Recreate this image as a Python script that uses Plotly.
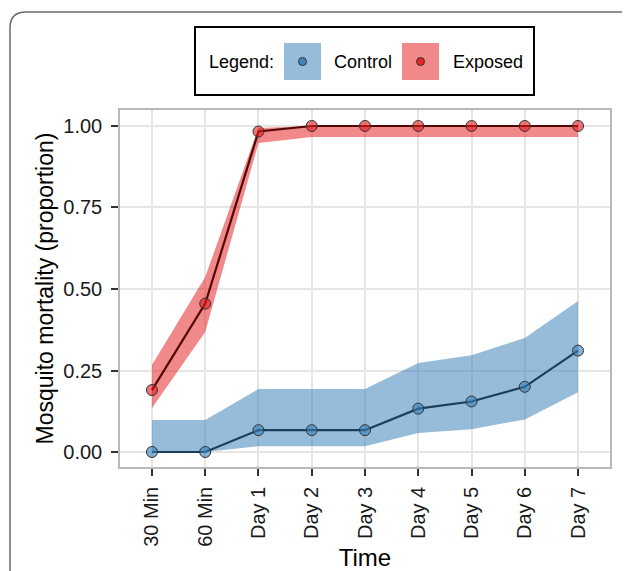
import plotly.graph_objects as go

times = ["30 Min", "60 Min", "Day 1", "Day 2", "Day 3", "Day 4", "Day 5", "Day 6", "Day 7"]

control_mean = [0.0, 0.0, 0.067, 0.067, 0.067, 0.133, 0.155, 0.200, 0.311]
control_low = [0.0, 0.0, 0.018, 0.018, 0.018, 0.058, 0.070, 0.100, 0.183]
control_high = [0.098, 0.098, 0.193, 0.193, 0.193, 0.273, 0.297, 0.350, 0.463]

exposed_mean = [0.190, 0.455, 0.983, 1.0, 1.0, 1.0, 1.0, 1.0, 1.0]
exposed_low = [0.135, 0.368, 0.948, 0.966, 0.966, 0.966, 0.966, 0.966, 0.966]
exposed_high = [0.267, 0.537, 0.994, 1.0, 1.0, 1.0, 1.0, 1.0, 1.0]

yticks = [0.0, 0.25, 0.50, 0.75, 1.00]
ytick_text = ["0.00", "0.25", "0.50", "0.75", "1.00"]

CTRL_FILL = "rgba(55,126,184,0.52)"
EXP_FILL = "rgba(228,26,28,0.52)"
CTRL_LINE = "#1c3d5c"
EXP_LINE = "#520707"

fig = go.Figure()

for lo, hi, fillc in [(control_low, control_high, CTRL_FILL), (exposed_low, exposed_high, EXP_FILL)]:
    fig.add_trace(go.Scatter(
        x=times + times[::-1], y=hi + lo[::-1], fill="toself", fillcolor=fillc,
        line=dict(width=0), mode="lines", hoverinfo="skip", showlegend=False))

for mean, lc, mc in [(control_mean, CTRL_LINE, "rgba(55,126,184,0.6)"), (exposed_mean, EXP_LINE, "rgba(228,26,28,0.6)")]:
    fig.add_trace(go.Scatter(
        x=times, y=mean, mode="lines+markers",
        line=dict(color=lc, width=2.2),
        marker=dict(size=11, color=mc, line=dict(color="#333333", width=1)),
        showlegend=False))

# page has an 8px body margin; work in page pixels and convert
OFF = 8
W, H = 630 - OFF, 571 - OFF
L, R, T, B = 120 - OFF, 610 - OFF, 110 - OFF, 467 - OFF


def px(x):
    return (x - OFF - L) / (R - L)


def py(y):
    return (B - (y - OFF)) / (B - T)


shapes = []
# outer rounded frame
x0, y0, x1, y1, r = 10, 12, 660, 600, 16
path = (f"M {px(x0)},{py(y1)} L {px(x0)},{py(y0 + r)} "
        f"Q {px(x0)},{py(y0)} {px(x0 + r)},{py(y0)} L {px(x1)},{py(y0)}")
shapes.append(dict(type="path", xref="paper", yref="paper", path=path,
                   line=dict(color="#6b6b6b", width=1.5)))
# legend box
shapes.append(dict(type="rect", xref="paper", yref="paper",
                   x0=px(195), x1=px(534), y0=py(95), y1=py(27),
                   line=dict(color="black", width=2), fillcolor="white"))
# legend keys
for kx, fillc, dotc in [(284, CTRL_FILL, "rgba(55,126,184,0.9)"), (402, EXP_FILL, "rgba(228,26,28,0.9)")]:
    shapes.append(dict(type="rect", xref="paper", yref="paper",
                       x0=px(kx), x1=px(kx + 37), y0=py(80), y1=py(43),
                       line=dict(width=0), fillcolor=fillc))
    cx, cy = kx + 18.5, 61.5
    shapes.append(dict(type="circle", xref="paper", yref="paper",
                       x0=px(cx - 4), x1=px(cx + 4), y0=py(cy + 4), y1=py(cy - 4),
                       line=dict(color="#333333", width=1), fillcolor=dotc))

font = "Liberation Sans, Arial, sans-serif"
annotations = [
    dict(text="Legend:", x=px(207), y=py(61.5), xanchor="left", yanchor="middle"),
    dict(text="Control", x=px(332), y=py(61.5), xanchor="left", yanchor="middle"),
    dict(text="Exposed", x=px(451), y=py(61.5), xanchor="left", yanchor="middle"),
]
for a in annotations:
    a.update(xref="paper", yref="paper", showarrow=False,
             font=dict(family=font, size=18, color="black"))

fig.update_layout(
    width=W, height=H,
    margin=dict(l=L, r=W - R, t=T, b=H - B, autoexpand=False),
    paper_bgcolor="white", plot_bgcolor="white",
    font=dict(family=font, color="black"),
    shapes=shapes, annotations=annotations,
    showlegend=False,
)
fig.update_xaxes(
    type="category", categoryorder="array", categoryarray=times,
    range=[-0.6, 8.6], tickangle=-90,
    tickfont=dict(size=20, color="#1a1a1a"),
    ticks="outside", ticklen=7, tickcolor="#333333", tickwidth=1.8,
    ticklabelstandoff=3,
    showgrid=True, gridcolor="#e5e5e5", gridwidth=2,
    showline=True, linecolor="#b8b8b8", linewidth=1.5, mirror=True,
    zeroline=False, automargin=False,
    title=dict(text="Time", font=dict(size=24), standoff=14),
)
fig.update_yaxes(
    range=[-0.046, 1.049], tickvals=yticks, ticktext=ytick_text,
    tickfont=dict(size=20, color="#1a1a1a"),
    ticks="outside", ticklen=7, tickcolor="#333333", tickwidth=1.8,
    ticklabelstandoff=5,
    showgrid=True, gridcolor="#e5e5e5", gridwidth=2,
    showline=True, linecolor="#b8b8b8", linewidth=1.5, mirror=True,
    zeroline=False, automargin=False,
    title=dict(text="Mosquito mortality (proportion)", font=dict(size=23), standoff=3),
)

fig.write_html("out.html")
